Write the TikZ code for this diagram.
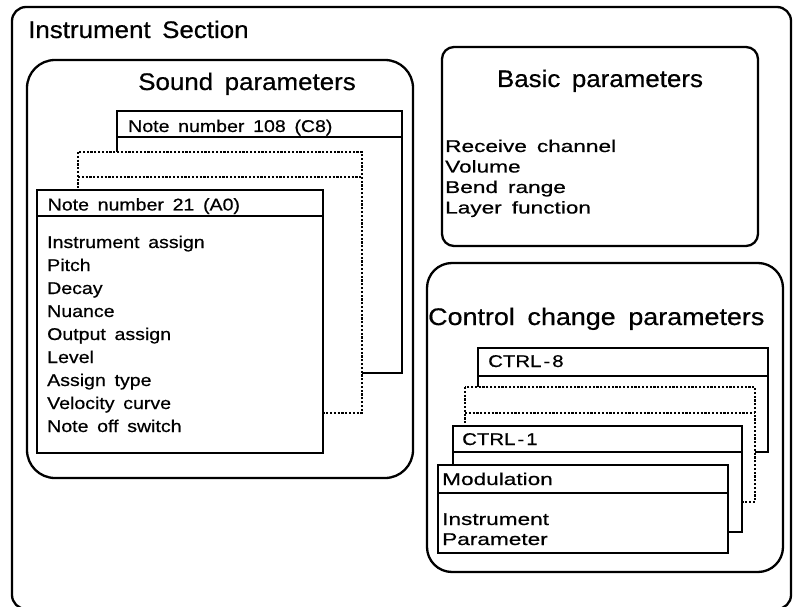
\documentclass[tikz,border=0pt]{standalone}
\usepackage{fontspec}
\setmainfont{Liberation Sans}
\newfontfamily\headf[FakeStretch=1.08,WordSpace=1.6,FakeBold=0.6]{Liberation Sans}
\newfontfamily\headw[FakeStretch=1.12,WordSpace=1.7,FakeBold=0.6]{Liberation Sans}
\newfontfamily\bodyf[FakeStretch=1.15,WordSpace=1.6,FakeBold=0.6]{Liberation Sans}
\newfontfamily\widef[FakeStretch=1.33,WordSpace=1.6,FakeBold=0.6]{Liberation Sans}
\newfontfamily\ctrlf[FakeStretch=1.2,FakeBold=0.6]{Liberation Sans}
\begin{document}
\begin{tikzpicture}[x=1pt,y=-1pt,
  frame/.style={draw, line width=2.3pt, rounded corners=#1},
  card/.style={draw, line width=2pt, fill=white},
  rule/.style={line width=2pt},
  dotcard/.style={draw, line width=2pt, fill=white, dash pattern=on 2.2pt off 1.6pt},
  headtxt/.style={inner sep=0pt, anchor=base, font=\headf\fontsize{24}{28}\selectfont},
  headleft/.style={inner sep=0pt, anchor=base west, font=\headf\fontsize{24}{28}\selectfont},
  itemtxt/.style={inner sep=0pt, anchor=base west, font=\bodyf\fontsize{17}{20}\selectfont},
  itemwide/.style={inner sep=0pt, anchor=base west, font=\widef\fontsize{17}{20}\selectfont},
  ctrltxt/.style={inner sep=0pt, anchor=base west, font=\ctrlf\fontsize{17}{20}\selectfont}]
\useasboundingbox (0,0) rectangle (793,607);
\fill[white] (0,0) rectangle (793,607);

% outer frame
\draw[frame=14] (12,7) rectangle (791,609);
\node[headleft] (title) at (28,38) {Instrument Section};

% Sound parameters
\draw[frame=28] (27,60) rectangle (413,478);
\node[headtxt] (soundhead) at (247,90) {Sound parameters};

\draw[card] (117,111) rectangle (402,373);
\draw[rule] (117,137) -- (402,137);
\node[itemtxt] (n108) at (128,132) {Note number 108 (C8)};

\draw[dotcard] (78,152) rectangle (362,413);
\draw[dotcard] (78,177) -- (362,177);

\draw[card] (37,190) rectangle (323,453);
\draw[rule] (37,216) -- (323,216);
\node[itemtxt] (n21) at (47.5,210.5) {Note number 21 (A0)};
\node[itemtxt] (s1) at (47,248) {Instrument assign};
\node[itemtxt] (s2) at (47,271) {Pitch};
\node[itemtxt] (s3) at (47,294) {Decay};
\node[itemtxt] (s4) at (47,317) {Nuance};
\node[itemtxt] (s5) at (47,340) {Output assign};
\node[itemtxt] (s6) at (47,363) {Level};
\node[itemtxt] (s7) at (47,386) {Assign type};
\node[itemtxt] (s8) at (47,409) {Velocity curve};
\node[itemtxt] (s9) at (47,432) {Note off switch};

% Basic parameters
\draw[frame=12] (442,47) rectangle (758,246);
\node[headtxt] (basichead) at (600,87) {Basic parameters};
\node[itemwide] (b1) at (445,152) {Receive channel};
\node[itemwide] (b2) at (445,172.5) {Volume};
\node[itemwide] (b3) at (445,193) {Bend range};
\node[itemwide] (b4) at (445,213.5) {Layer function};

% Control change parameters
\draw[frame=25] (427,263) rectangle (783,572);
\node[headleft, font=\headw\fontsize{24}{28}\selectfont] (ctrlhead) at (428,325) {Control change parameters};

\draw[card] (478,348) rectangle (768,452);
\draw[rule] (478,376) -- (768,376);
\node[ctrltxt] (c8) at (488,367) {CTRL\kern2pt-\kern2pt8};

\draw[dotcard] (465,387) rectangle (755,502);
\draw[dotcard] (465,413) -- (755,413);

\draw[card] (453,426) rectangle (742,532);
\draw[rule] (453,452) -- (742,452);
\node[ctrltxt] (c1) at (462,445) {CTRL\kern2pt-\kern2pt1};

\draw[card] (438,465) rectangle (728,553);
\draw[rule] (438,493) -- (728,493);
\node[itemwide] (mod) at (442,485) {Modulation};
\node[itemwide] (m1) at (442,525) {Instrument};
\node[itemwide] (m2) at (442,545) {Parameter};
\end{tikzpicture}
\end{document}
